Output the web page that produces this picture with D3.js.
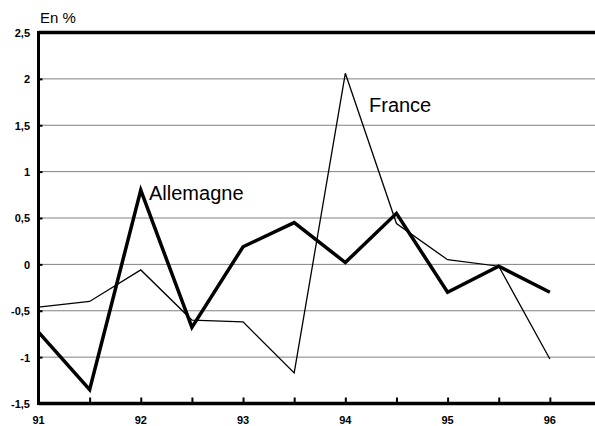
<!DOCTYPE html>
<html>
<head>
<meta charset="utf-8">
<script src="https://cdn.jsdelivr.net/npm/d3@7"></script>
<style>
  body { margin:0; background:#fff; }
  text { font-family: "Liberation Sans", Arial, sans-serif; }
</style>
</head>
<body>
<div id="chart"></div>
<script>
// half-year periods, 91 = 1991 S1
let periods = [91, 91.5, 92, 92.5, 93, 93.5, 94, 94.5, 95, 95.5, 96];
let allemagne = [-0.73, -1.35, 0.80, -0.68, 0.19, 0.45, 0.02, 0.55, -0.30, -0.02, -0.30];
let france = [-0.46, -0.40, -0.06, -0.60, -0.62, -1.17, 2.06, 0.44, 0.05, -0.02, -1.02];
let xTicks = [91, 91.5, 92, 92.5, 93, 93.5, 94, 94.5, 95, 95.5, 96];
let xTickLabels = ["91", "92", "93", "94", "95", "96"];
let yTicks = [-1.5, -1, -0.5, 0, 0.5, 1, 1.5, 2, 2.5];
let yTickLabels = ["-1,5", "-1", "-0,5", "0", "0,5", "1", "1,5", "2", "2,5"];

let screen = {width:595, height:426};

let xScale = d3.scaleLinear()
                .domain([91, 96.5])
                .range([38.5, 601]);
let yScale = d3.scaleLinear()
                .domain([-1.5, 2.5])
                .range([403.5, 32.5]);

let svg = d3.select("#chart")
            .append("svg")
            .attr("width", screen.width)
            .attr("height", screen.height);

// gridlines
svg.append("g")
    .selectAll("line")
    .data(yTicks.slice(1, -1))
    .enter()
    .append("line")
    .attr("x1", xScale(91))
    .attr("x2", screen.width)
    .attr("y1", function(d){ return yScale(d); })
    .attr("y2", function(d){ return yScale(d); })
    .attr("stroke", "#808080")
    .attr("stroke-width", 1);

// y axis
let yAxis = svg.append("g")
    .attr("transform", "translate(" + xScale(91) + ",0)")
    .call(d3.axisRight(yScale)
            .tickValues(yTicks)
            .tickSize(4)
            .tickFormat(function(d, i){ return ""; }));
yAxis.select(".domain").remove();
yAxis.selectAll(".tick line").attr("stroke", "#000").attr("stroke-width", 2);

svg.append("g")
    .selectAll("text")
    .data(yTicks)
    .enter()
    .append("text")
    .attr("x", 30)
    .attr("y", function(d){ return yScale(d); })
    .attr("dy", "0.4em")
    .attr("text-anchor", "end")
    .attr("font-size", 11)
    .attr("font-weight", "bold")
    .text(function(d, i){ return yTickLabels[i]; });

// x axis
let xAxis = svg.append("g")
    .attr("transform", "translate(0," + yScale(-1.5) + ")")
    .call(d3.axisTop(xScale)
            .tickValues(xTicks)
            .tickSize(6)
            .tickFormat(function(d){ return ""; }));
xAxis.select(".domain").remove();
xAxis.selectAll(".tick line").attr("stroke", "#000").attr("stroke-width", 2);

svg.append("g")
    .selectAll("text")
    .data(xTickLabels)
    .enter()
    .append("text")
    .attr("x", function(d){ return xScale(+d); })
    .attr("y", 424)
    .attr("text-anchor", "middle")
    .attr("font-size", 11)
    .attr("font-weight", "bold")
    .text(function(d){ return d; });

// frame: left, top, bottom
svg.append("line")
    .attr("x1", xScale(91)).attr("x2", xScale(91))
    .attr("y1", yScale(2.5) - 1.5).attr("y2", yScale(-1.5) + 1.5)
    .attr("stroke", "#000").attr("stroke-width", 3);
svg.append("line")
    .attr("x1", xScale(91)).attr("x2", screen.width)
    .attr("y1", yScale(2.5)).attr("y2", yScale(2.5))
    .attr("stroke", "#000").attr("stroke-width", 3.3);
svg.append("line")
    .attr("x1", xScale(91)).attr("x2", screen.width)
    .attr("y1", yScale(-1.5)).attr("y2", yScale(-1.5))
    .attr("stroke", "#000").attr("stroke-width", 3.3);

let line = d3.line()
    .x(function(d, i){ return xScale(periods[i]); })
    .y(function(d){ return yScale(d); });

svg.append("path")
    .datum(france)
    .attr("d", line)
    .attr("fill", "none")
    .attr("stroke", "#000")
    .attr("stroke-width", 1.3);

svg.append("path")
    .datum(allemagne)
    .attr("d", line)
    .attr("fill", "none")
    .attr("stroke", "#000")
    .attr("stroke-width", 3.5)
    .attr("stroke-linejoin", "miter");

// labels
svg.append("text")
    .attr("x", 40).attr("y", 23)
    .attr("font-size", 15)
    .text("En %");
svg.append("text")
    .attr("x", 149).attr("y", 200)
    .attr("font-size", 20)
    .text("Allemagne");
svg.append("text")
    .attr("x", 369).attr("y", 112)
    .attr("font-size", 20)
    .text("France");
</script>
</body>
</html>
